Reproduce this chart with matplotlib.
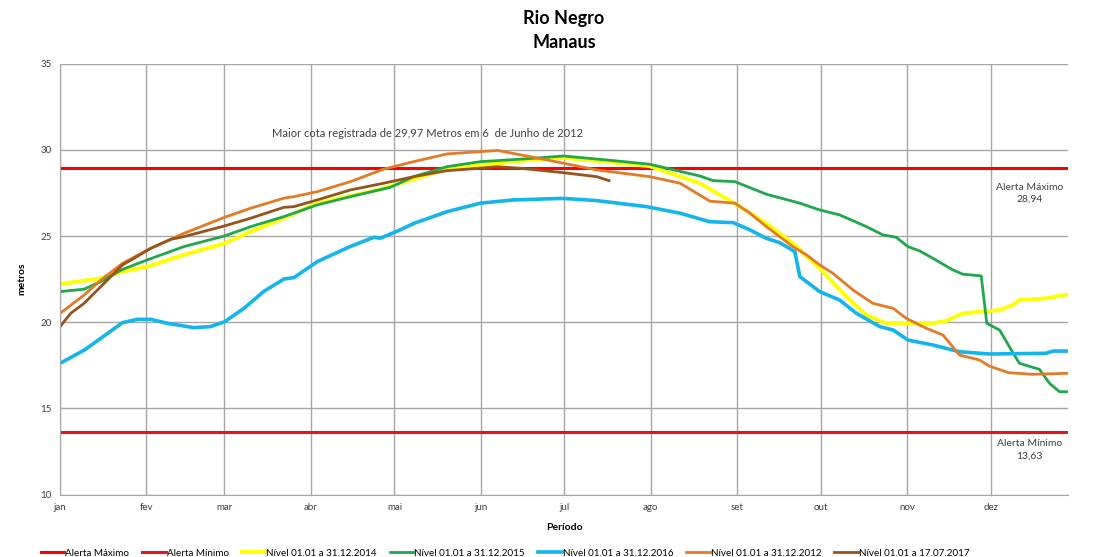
import numpy as np
import matplotlib.pyplot as plt

plt.rcParams['font.family'] = ['Lato', 'DejaVu Sans']

# day of year (0 = 1 jan) and level in metres
month_days = [0, 31, 59, 90, 120, 151, 181, 212, 243, 273, 304, 334]
month_labels = ["jan", "fev", "mar", "abr", "mai", "jun", "jul", "ago", "set", "out", "nov", "dez"]

alerta_max = 28.94
alerta_min = 13.63

d2014 = [0, 14.6, 22.4, 31.3, 44.4, 59, 68.4, 80.3, 92.3, 115, 140, 168.7, 180.7, 198.6, 211.6, 229.6,
         242, 253.5, 263, 272.6, 282.2, 289.4, 296.6, 313.3, 318, 324, 331.2, 337.2, 342, 344.3, 353.9, 361.7]
v2014 = [22.22, 22.55, 22.94, 23.23, 23.91, 24.58, 25.26, 26.04, 26.91, 27.72, 28.95, 29.42, 29.55, 29.28, 29.06, 28.07,
         26.91, 25.74, 24.58, 23.13, 21.49, 20.42, 19.94, 19.94, 20.08, 20.52, 20.62, 20.71, 21.0, 21.29, 21.39, 21.62]

d2015 = [0, 8.6, 14.6, 22.4, 31.3, 44.4, 59, 68.4, 80.3, 92.3, 104.2, 118.5, 126.9, 138.9, 150.8, 168.7, 180.7,
         198.6, 211.6, 229.6, 234.4, 242.2, 253.5, 265.5, 272.6, 279.8, 289.4, 295.3, 300.1, 304.3, 308.5, 313.3,
         320.4, 324, 330.6, 332.6, 337.2, 341.4, 344.3, 351.5, 355.1, 358.7, 361.7]
v2015 = [21.78, 21.92, 22.36, 23.07, 23.62, 24.39, 25.01, 25.55, 26.13, 26.81, 27.29, 27.83, 28.45, 29.03, 29.32, 29.5, 29.65,
         29.38, 29.17, 28.49, 28.22, 28.16, 27.43, 26.91, 26.52, 26.23, 25.55, 25.07, 24.93, 24.39, 24.14, 23.71,
         23.04, 22.79, 22.69, 19.94, 19.55, 18.39, 17.62, 17.27, 16.46, 15.97, 15.97]

d2016 = [0, 8.7, 14.6, 22.4, 27.7, 32.5, 38.5, 48, 54, 59, 66, 73, 80.3, 83.9, 92.3, 104, 112.6, 115, 122, 127,
         138.9, 150.8, 162.7, 180.6, 192.6, 210.5, 222.5, 233, 241.6, 247.6, 253.5, 258.3, 263.7, 265.5, 272.6,
         279.8, 285.8, 294.2, 299, 304.3, 313.3, 322.8, 333.5, 353.9, 356.3, 361.7]
v2016 = [17.62, 18.39, 19.07, 19.98, 20.17, 20.17, 19.94, 19.69, 19.75, 20.03, 20.81, 21.78, 22.51, 22.59, 23.52, 24.39, 24.93, 24.88, 25.36, 25.74,
         26.42, 26.91, 27.10, 27.19, 27.06, 26.71, 26.33, 25.84, 25.78, 25.36, 24.87, 24.62, 24.10, 22.65, 21.78,
         21.29, 20.52, 19.75, 19.55, 18.97, 18.68, 18.29, 18.16, 18.20, 18.33, 18.33]

d2012 = [0, 8.6, 14.6, 22.4, 32.5, 44.4, 59, 68.4, 80.3, 83.9, 92.3, 104.2, 116, 126.9, 138.9, 150.8, 157, 168.7,
         180.7, 192.6, 211.6, 222.5, 233.2, 242.2, 247.6, 253.5, 263, 267.9, 272.6, 277.4, 284.6, 291.7, 299, 303.7,
         310.9, 316.9, 322.8, 330, 333.5, 340.3, 348.7, 361.7]
v2012 = [20.52, 21.58, 22.45, 23.42, 24.29, 25.16, 26.09, 26.62, 27.2, 27.29, 27.58, 28.16, 28.88, 29.32, 29.77, 29.90, 29.97, 29.61,
         29.23, 28.84, 28.45, 28.07, 27.03, 26.91, 26.33, 25.55, 24.39, 23.91, 23.33, 22.84, 21.87, 21.10, 20.81, 20.23,
         19.65, 19.26, 18.10, 17.81, 17.46, 17.08, 16.98, 17.04]

d2017 = [0, 3.8, 8.6, 14.6, 22.4, 26.5, 32.5, 39.7, 44.4, 59, 68.4, 80.3, 83.9, 92.3, 104.2, 116.2, 126.9, 138.9,
         150.8, 156.8, 165, 180.7, 192.6, 197]
v2017 = [19.75, 20.52, 21.10, 22.07, 23.33, 23.71, 24.29, 24.81, 24.97, 25.59, 26.04, 26.67, 26.71, 27.1, 27.68, 28.07, 28.45, 28.80,
         28.94, 29.03, 28.94, 28.68, 28.45, 28.22]

fig = plt.figure(figsize=(10.93, 5.57), dpi=100)
ax = fig.add_axes([0.055, 0.112, 0.922, 0.7735])

x_end = 361.7
ax.plot([0, x_end], [alerta_max, alerta_max], color="#FF0000", lw=2.2, label="Alerta Máximo")
ax.plot([0, x_end], [alerta_min, alerta_min], color="#E8141B", lw=2.2, label="Alerta Mínimo")
ax.plot(d2014, v2014, color="#FFFF00", lw=2.8, label="Nível 01.01 a 31.12.2014")
ax.plot(d2015, v2015, color="#1FA84A", lw=2.0, label="Nível 01.01 a 31.12.2015")
ax.plot(d2016, v2016, color="#14B4EC", lw=2.6, label="Nível 01.01 a 31.12.2016")
ax.plot(d2012, v2012, color="#E57A26", lw=2.0, label="Nível 01.01 a 31.12.2012")
ax.plot(d2017, v2017, color="#96541C", lw=2.0, label="Nível 01.01 a 17.07.2017")

ax.set_xlim(0, x_end)
ax.set_ylim(10, 35)
ax.set_xticks(month_days)
ax.set_xticklabels(month_labels)
ax.set_yticks([10, 15, 20, 25, 30, 35])
ax.grid(True, color="#A6A6A6", lw=1.0)
ax.set_axisbelow(True)
for s in ["top", "right"]:
    ax.spines[s].set_visible(False)
for s in ["left", "bottom"]:
    ax.spines[s].set_color("#A6A6A6")
ax.tick_params(length=0, labelsize=7, colors="#404040", pad=6)

ax.set_xlabel("Período", fontsize=7.5, fontweight="bold", labelpad=8)
ax.set_ylabel("metros", fontsize=7.5, fontweight="bold", labelpad=10)

fig.text(0.516, 0.967, "Rio Negro", ha="center", va="center", fontsize=13, fontweight="bold")
fig.text(0.516, 0.924, "Manaus", ha="center", va="center", fontsize=13, fontweight="bold")

ax.text(76.2, 30.95, "Maior cota registrada de 29,97 Metros em 6  de Junho de 2012",
        fontsize=8, color="#404040", va="center")
ax.text(348, 27.5, "Alerta Máximo\n28,94", fontsize=7.5, color="#404040",
        ha="center", va="center", linespacing=1.4)
ax.text(348, 12.6, "Alerta Mínimo\n13,63", fontsize=7.5, color="#404040",
        ha="center", va="center", linespacing=1.4)

fig.legend(loc="lower center", bbox_to_anchor=(0.462, -0.017), ncol=7, frameon=False,
           fontsize=7.1, handlelength=2.4, handletextpad=0.1, columnspacing=1.3)

fig.savefig("out.png", dpi=100)
